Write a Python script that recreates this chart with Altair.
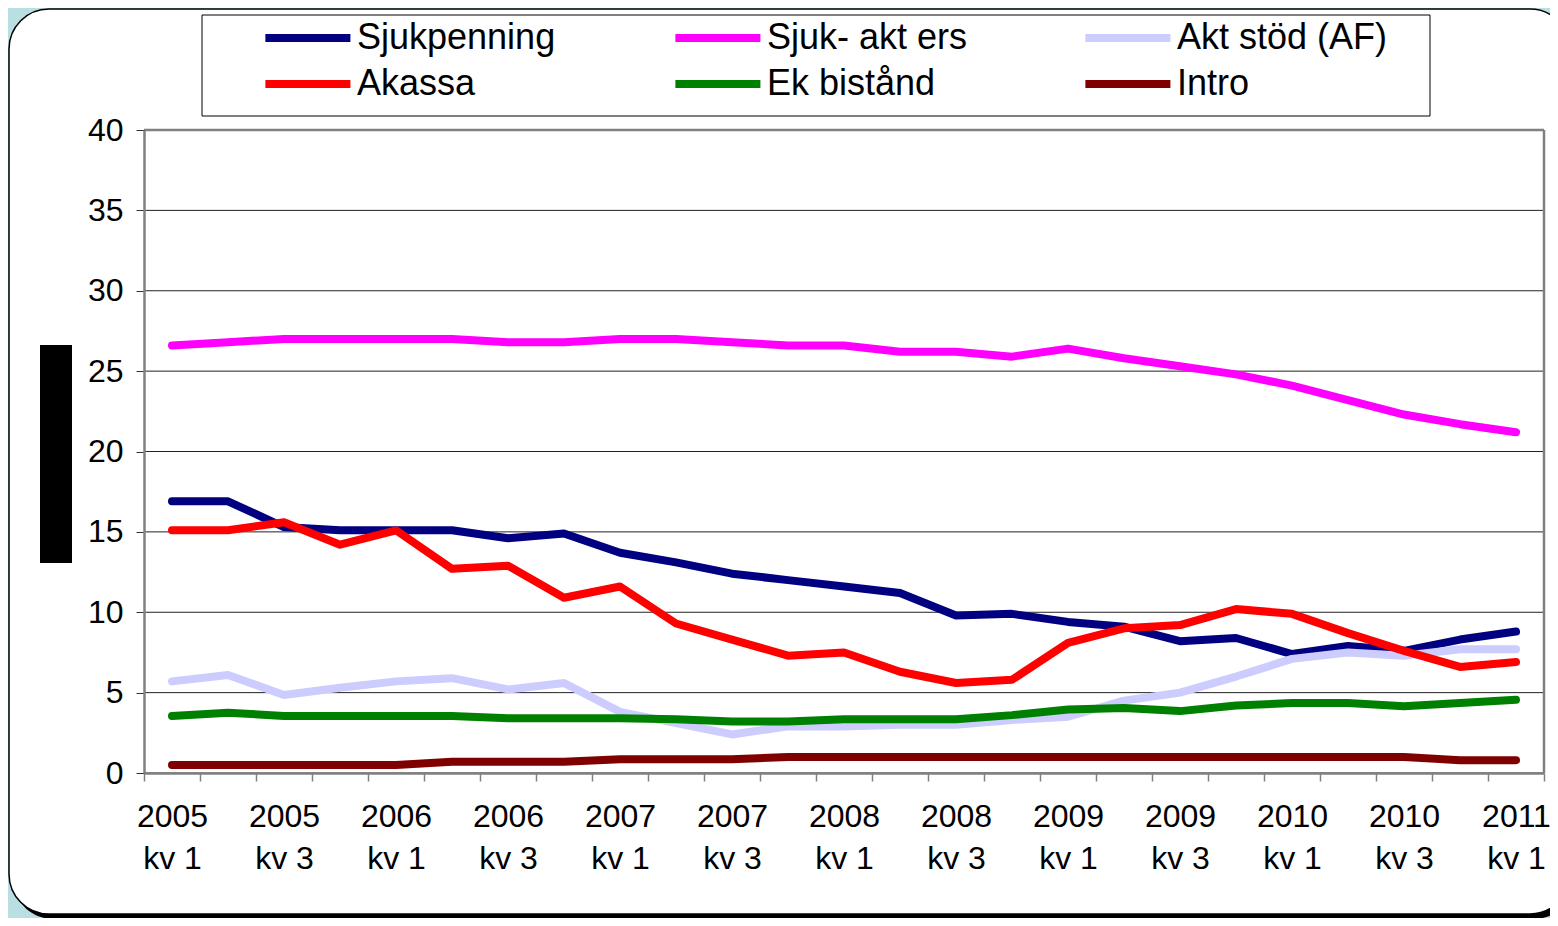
import altair as alt
import pandas as pd

periods = [
    "2005|kv 1", "2005|kv 2", "2005|kv 3", "2005|kv 4",
    "2006|kv 1", "2006|kv 2", "2006|kv 3", "2006|kv 4",
    "2007|kv 1", "2007|kv 2", "2007|kv 3", "2007|kv 4",
    "2008|kv 1", "2008|kv 2", "2008|kv 3", "2008|kv 4",
    "2009|kv 1", "2009|kv 2", "2009|kv 3", "2009|kv 4",
    "2010|kv 1", "2010|kv 2", "2010|kv 3", "2010|kv 4",
    "2011|kv 1",
]

series_names = ["Sjukpenning", "Sjuk- akt ers", "Akt stöd (AF)", "Akassa", "Ek bistånd", "Intro"]
series_colors = ["#000080", "#FF00FF", "#CCCCFF", "#FF0000", "#008000", "#800000"]

sjukpenning = [16.9, 16.9, 15.3, 15.1, 15.1, 15.1, 14.6, 14.9, 13.7, 13.1, 12.4, 12.0, 11.6,
               11.2, 9.8, 9.9, 9.4, 9.1, 8.2, 8.4, 7.4, 7.9, 7.6, 8.3, 8.8]
sjuk_akt_ers = [26.6, 26.8, 27.0, 27.0, 27.0, 27.0, 26.8, 26.8, 27.0, 27.0, 26.8, 26.6, 26.6,
                26.2, 26.2, 25.9, 26.4, 25.8, 25.3, 24.8, 24.1, 23.2, 22.3, 21.7, 21.2]
akt_stod = [5.7, 6.1, 4.85, 5.3, 5.7, 5.9, 5.2, 5.6, 3.8, 3.1, 2.4, 2.9, 2.9,
            3.0, 3.0, 3.3, 3.5, 4.5, 5.0, 6.0, 7.1, 7.5, 7.3, 7.7, 7.7]
akassa = [15.1, 15.1, 15.6, 14.2, 15.1, 12.7, 12.9, 10.9, 11.6, 9.3, 8.3, 7.3, 7.5,
          6.3, 5.6, 5.8, 8.1, 9.0, 9.2, 10.2, 9.9, 8.7, 7.6, 6.6, 6.9]
ek_bistand = [3.55, 3.75, 3.55, 3.55, 3.55, 3.55, 3.4, 3.4, 3.4, 3.35, 3.2, 3.2, 3.35,
              3.35, 3.35, 3.6, 3.95, 4.05, 3.85, 4.2, 4.35, 4.35, 4.15, 4.35, 4.55]
intro = [0.5, 0.5, 0.5, 0.5, 0.5, 0.7, 0.7, 0.7, 0.85, 0.85, 0.85, 1.0, 1.0,
         1.0, 1.0, 1.0, 1.0, 1.0, 1.0, 1.0, 1.0, 1.0, 1.0, 0.8, 0.8]

y_ticks = [0, 5, 10, 15, 20, 25, 30, 35, 40]

all_values = [sjukpenning, sjuk_akt_ers, akt_stod, akassa, ek_bistand, intro]
rows = []
for name, vals in zip(series_names, all_values):
    for p, v in zip(periods, vals):
        rows.append({"period": p, "series": name, "value": v})
df = pd.DataFrame(rows)

W, H = 1400, 643
FONT = "Liberation Sans"
yscale = alt.Scale(domain=[0, 40], nice=False, zero=True)
one = pd.DataFrame({"a": [0]})

y_axis = alt.Axis(
    title=None, values=y_ticks, grid=False, tickSize=8, tickColor="#333333",
    labelFontSize=32, labelFont=FONT, labelColor="black", labelPadding=13,
    domainColor="#808080", domainWidth=2.5, zindex=1,
)

shadow = alt.Chart(one).mark_rect(color="black", cornerRadius=40).encode(
    x=alt.value(-131), x2=alt.value(1430), y=alt.value(-117), y2=alt.value(789)
)
panel = alt.Chart(one).mark_rect(fill="white", stroke="black", strokeWidth=1.5, cornerRadius=40).encode(
    x=alt.value(-135), x2=alt.value(1426), y=alt.value(-121), y2=alt.value(784)
)
legend_box = alt.Chart(one).mark_rect(fill="white", stroke="black", strokeWidth=1).encode(
    x=alt.value(58), x2=alt.value(1286), y=alt.value(-115), y2=alt.value(-14)
)
block = alt.Chart(one).mark_rect(color="black").encode(
    x=alt.value(-104), x2=alt.value(-72), y=alt.value(215), y2=alt.value(433)
)
right_edge = alt.Chart(one).mark_rule(color="#808080", strokeWidth=2.5).encode(
    x=alt.value(W), y=alt.value(0), y2=alt.value(H)
)

grid = alt.Chart(pd.DataFrame({"v": y_ticks})).mark_rule(color="#222222", strokeWidth=1).encode(
    y=alt.Y("v:Q", scale=yscale, axis=y_axis)
)
top_edge = alt.Chart(pd.DataFrame({"v": [40]})).mark_rule(color="#808080", strokeWidth=2.5).encode(
    y=alt.Y("v:Q", scale=yscale, axis=y_axis)
)

label_expr = ("(split(datum.value, '|')[1] == 'kv 1' || split(datum.value, '|')[1] == 'kv 3')"
              " ? split(datum.value, '|') : ''")

lines = alt.Chart(df).mark_line(strokeWidth=8, strokeCap="round", strokeJoin="round").encode(
    x=alt.X(
        "period:N",
        sort=periods,
        scale=alt.Scale(type="band", paddingInner=0, paddingOuter=0),
        axis=alt.Axis(
            title=None, tickBand="extent", labelExpr=label_expr, labelAngle=0,
            labelFontSize=32, labelFont=FONT, labelColor="black", labelLineHeight=42,
            labelPadding=20, labelBaseline="top", tickSize=8, tickColor="#808080",
            tickWidth=1.5, domainColor="#808080", domainWidth=2.5, labelOverlap=False,
            grid=False, zindex=1,
        ),
    ),
    y=alt.Y("value:Q", scale=yscale, axis=y_axis),
    color=alt.Color(
        "series:N",
        scale=alt.Scale(domain=series_names, range=series_colors),
        legend=alt.Legend(
            title=None, orient="none", legendX=114, legendY=-110, columns=3,
            direction="horizontal", symbolType="M-1,0H7", symbolSize=452,
            symbolStrokeWidth=8, labelOffset=63, labelFontSize=36, labelFont=FONT,
            labelColor="black", columnPadding=91, rowPadding=10, gridAlign="all",
            padding=0, labelLimit=500,
        ),
    ),
)

chart = alt.layer(shadow, panel, legend_box, block, grid, top_edge, right_edge, lines).properties(
    width=W, height=H,
    padding={"left": 136, "top": 122, "right": 6, "bottom": 145},
    autosize=alt.AutoSizeParams(type="none"),
).configure(
    background="#BADFE3",
).configure_view(
    stroke="#808080", strokeWidth=2.5,
)

chart.save("out.html", embed_options={"renderer": "svg", "actions": False})
